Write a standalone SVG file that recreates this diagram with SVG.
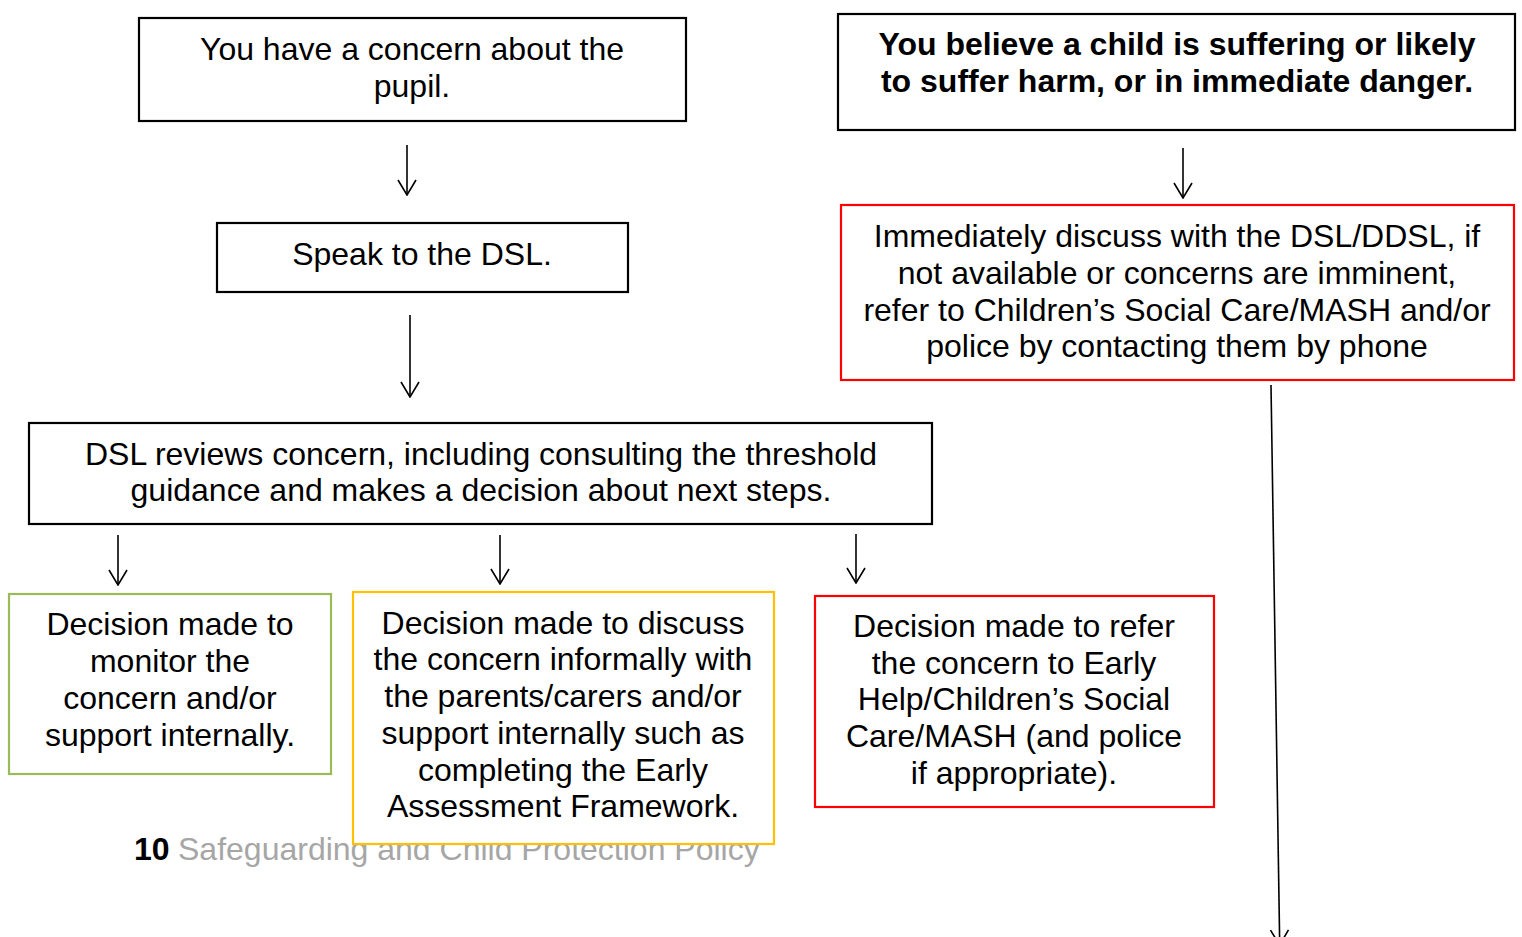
<svg xmlns="http://www.w3.org/2000/svg" width="1522" height="937" viewBox="0 0 1522 937">
<defs>
<marker id="ah" viewBox="0 0 20 20" refX="19" refY="10" markerWidth="20" markerHeight="20" markerUnits="userSpaceOnUse" orient="auto">
<path d="M4,1 L19,10 L4,19" fill="none" stroke="#000" stroke-width="1.6"/>
</marker>
<style>
.box{fill:#fff;stroke-width:2.2}
.k{stroke:#000}
.t{font-family:"Liberation Sans",Arial,sans-serif;font-size:32px;fill:#000;text-anchor:middle}
.b{font-weight:bold}
.c{stroke:#000;stroke-width:1.6;fill:none}
</style>
</defs>
<rect width="1522" height="937" fill="#fff"/>
<g id="footer">
<text x="134" y="860" font-family="'Liberation Sans',Arial,sans-serif" font-size="32" font-weight="bold" fill="#000">10</text>
<text x="178" y="860" font-family="'Liberation Sans',Arial,sans-serif" font-size="32" fill="#a6a6a6">Safeguarding and Child Protection Policy</text>
</g>
<g id="connectors">
<path class="c" d="M407,145 V195" marker-end="url(#ah)"/>
<path class="c" d="M410,315 V397" marker-end="url(#ah)"/>
<path class="c" d="M118,535 V585" marker-end="url(#ah)"/>
<path class="c" d="M500,535 V584" marker-end="url(#ah)"/>
<path class="c" d="M856,534 V583" marker-end="url(#ah)"/>
<path class="c" d="M1183,148 V198" marker-end="url(#ah)"/>
<path class="c" d="M1271,385 L1279.7,945" marker-end="url(#ah)"/>
</g>
<g id="n1">
<rect class="box k" x="139" y="18" width="547" height="103"/>
<text class="t" x="412" y="60">You have a concern about the</text>
<text class="t" x="412" y="97">pupil.</text>
</g>
<g id="n2">
<rect class="box k" x="838" y="14" width="677" height="116"/>
<text class="t b" x="1177" y="55">You believe a child is suffering or likely</text>
<text class="t b" x="1177" y="92">to suffer harm, or in immediate danger.</text>
</g>
<g id="n3">
<rect class="box k" x="217" y="223" width="411" height="69"/>
<text class="t" x="422" y="265">Speak to the DSL.</text>
</g>
<g id="n4">
<rect class="box" stroke="#ff0000" x="841" y="205" width="673" height="175"/>
<text class="t" x="1177" y="247">Immediately discuss with the DSL/DDSL, if</text>
<text class="t" x="1177" y="284">not available or concerns are imminent,</text>
<text class="t" x="1177" y="321">refer to Children’s Social Care/MASH and/or</text>
<text class="t" x="1177" y="357">police by contacting them by phone</text>
</g>
<g id="n5">
<rect class="box k" x="29" y="423" width="903" height="101"/>
<text class="t" x="481" y="465">DSL reviews concern, including consulting the threshold</text>
<text class="t" x="481" y="501">guidance and makes a decision about next steps.</text>
</g>
<g id="n6">
<rect class="box" stroke="#9bbb59" x="9" y="594" width="322" height="180"/>
<text class="t" x="170" y="635">Decision made to</text>
<text class="t" x="170" y="672">monitor the</text>
<text class="t" x="170" y="709">concern and/or</text>
<text class="t" x="170" y="746">support internally.</text>
</g>
<g id="n7">
<rect class="box" stroke="#ffc000" x="353" y="592" width="421" height="252"/>
<text class="t" x="563" y="634">Decision made to discuss</text>
<text class="t" x="563" y="670">the concern informally with</text>
<text class="t" x="563" y="707">the parents/carers and/or</text>
<text class="t" x="563" y="744">support internally such as</text>
<text class="t" x="563" y="781">completing the Early</text>
<text class="t" x="563" y="817">Assessment Framework.</text>
</g>
<g id="n8">
<rect class="box" stroke="#ff0000" x="815" y="596" width="399" height="211"/>
<text class="t" x="1014" y="637">Decision made to refer</text>
<text class="t" x="1014" y="674">the concern to Early</text>
<text class="t" x="1014" y="710">Help/Children’s Social</text>
<text class="t" x="1014" y="747">Care/MASH (and police</text>
<text class="t" x="1014" y="784">if appropriate).</text>
</g>
</svg>
